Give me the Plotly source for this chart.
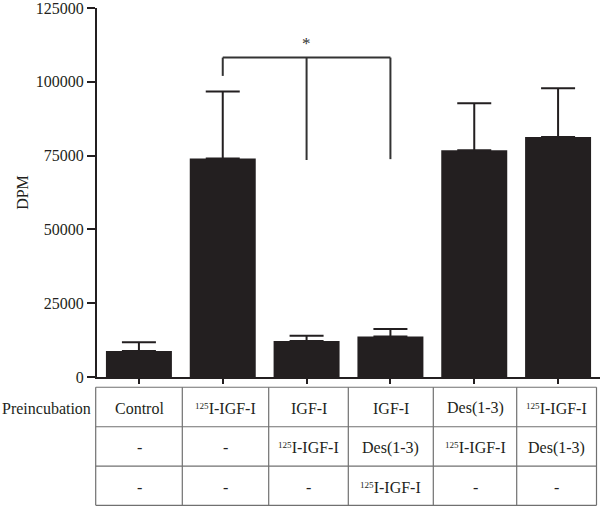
import plotly.graph_objects as go

# ---------------- data ----------------
categories = ["Control", "125I-IGF-I", "IGF-I/125I-IGF-I",
              "IGF-I/Des/125I-IGF-I", "Des/125I-IGF-I", "125I-IGF-I/Des"]
dpm_mean = [8800, 74000, 12200, 13700, 76800, 81300]
dpm_err = [3000, 22700, 1800, 2600, 15900, 16500]

y_ticks = [0, 25000, 50000, 75000, 100000, 125000]

row_label = "Preincubation"
SUP = "<span style='font-size:13px'><sup>125</sup></span>"
row1 = ["Control", SUP + "I-IGF-I", "IGF-I", "IGF-I", "Des(1-3)", SUP + "I-IGF-I"]
row2 = ["-", "-", SUP + "I-IGF-I", "Des(1-3)", SUP + "I-IGF-I", "Des(1-3)"]
row3 = ["-", "-", "-", SUP + "I-IGF-I", "-", "-"]

# significance bracket: from group index 1 to groups 2 and 3
bracket_top = 108200
bracket_left = (1, 102000)
bracket_drops = [(2, 73500), (3, 73800)]
star_value = 113000

# ---------------- styling ----------------
INK = "#231f20"
FONT = "Liberation Serif, Times New Roman, serif"
L, T, B = 97, 6, 130
W, H = 600, 507
plot_w = W - L
plot_h = H - T - B

def px_x(px):
    return (px - L) / plot_w

def px_y(py):
    return (H - B - py) / plot_h

fig = go.Figure()
fig.add_trace(go.Bar(
    x=categories, y=dpm_mean,
    marker=dict(color=INK, line=dict(width=0)),
    error_y=dict(type="data", array=dpm_err, arrayminus=[0] * len(dpm_err),
                 symmetric=False, color=INK, thickness=2, width=17),
))

shapes = []
# bracket
shapes.append(dict(type="line", xref="x", yref="y", x0=bracket_left[0], x1=bracket_drops[-1][0],
                   y0=bracket_top, y1=bracket_top, line=dict(color="#333", width=2)))
shapes.append(dict(type="line", xref="x", yref="y", x0=bracket_left[0], x1=bracket_left[0],
                   y0=bracket_top, y1=bracket_left[1], line=dict(color="#333", width=2)))
for xi, yv in bracket_drops:
    shapes.append(dict(type="line", xref="x", yref="y", x0=xi, x1=xi,
                       y0=bracket_top, y1=yv, line=dict(color="#333", width=2)))

# table grid
col_px = [95.7, 182.3, 268.7, 348.3, 433.3, 516.7, 596.5]
row_px = [387.3, 427.0, 466.7, 506.0]
grid = dict(color="#707070", width=1.2)
for cx in col_px:
    shapes.append(dict(type="line", xref="paper", yref="paper", x0=px_x(cx), x1=px_x(cx),
                       y0=px_y(row_px[0]), y1=px_y(row_px[-1]), line=grid))
for ry in row_px:
    shapes.append(dict(type="line", xref="paper", yref="paper", x0=px_x(col_px[0]), x1=px_x(col_px[-1]),
                       y0=px_y(ry), y1=px_y(ry), line=grid))

annotations = []
annotations.append(dict(x=2, y=star_value, xref="x", yref="y", text="*", showarrow=False,
                        font=dict(family=FONT, size=17, color="#333")))
for r, row in enumerate([row1, row2, row3]):
    cy = (row_px[r] + row_px[r + 1]) / 2 + 1.5
    for c, txt in enumerate(row):
        cx = (col_px[c] + col_px[c + 1]) / 2
        annotations.append(dict(x=px_x(cx), y=px_y(cy), xref="paper", yref="paper", text=txt,
                                showarrow=False, xanchor="center", yanchor="middle",
                                font=dict(family=FONT, size=16, color=INK)))
annotations.append(dict(x=px_x(93), y=px_y((row_px[0] + row_px[1]) / 2 + 2), xref="paper", yref="paper",
                        text=row_label, showarrow=False, xanchor="right", yanchor="middle",
                        font=dict(family=FONT, size=16, color=INK)))

fig.update_layout(
    width=W, height=H,
    margin=dict(l=L, r=0, t=T, b=B, pad=0),
    paper_bgcolor="white", plot_bgcolor="white",
    bargap=0.213,
    showlegend=False,
    shapes=shapes,
    annotations=annotations,
    font=dict(family=FONT, size=16, color=INK),
    xaxis=dict(type="category", range=[-0.5, 5.5], showticklabels=False, showgrid=False,
               zeroline=False, showline=True, linecolor=INK, linewidth=2,
               ticks="outside", ticklen=5, tickwidth=2, tickcolor=INK),
    yaxis=dict(range=[0, 125000], tickvals=y_ticks, tickformat="d", showgrid=False,
               zeroline=False, showline=True, linecolor=INK, linewidth=2,
               ticks="outside", ticklen=8, tickwidth=2, tickcolor=INK,
               ticklabeloverflow="allow",
               title=dict(text="DPM", standoff=3, font=dict(family=FONT, size=16, color=INK)),
               tickfont=dict(family=FONT, size=16, color=INK)),
)

fig.write_html(
    "out.html",
    config={"displayModeBar": False},
    post_script="document.body.style.margin='0';document.body.style.overflow='hidden';",
)
